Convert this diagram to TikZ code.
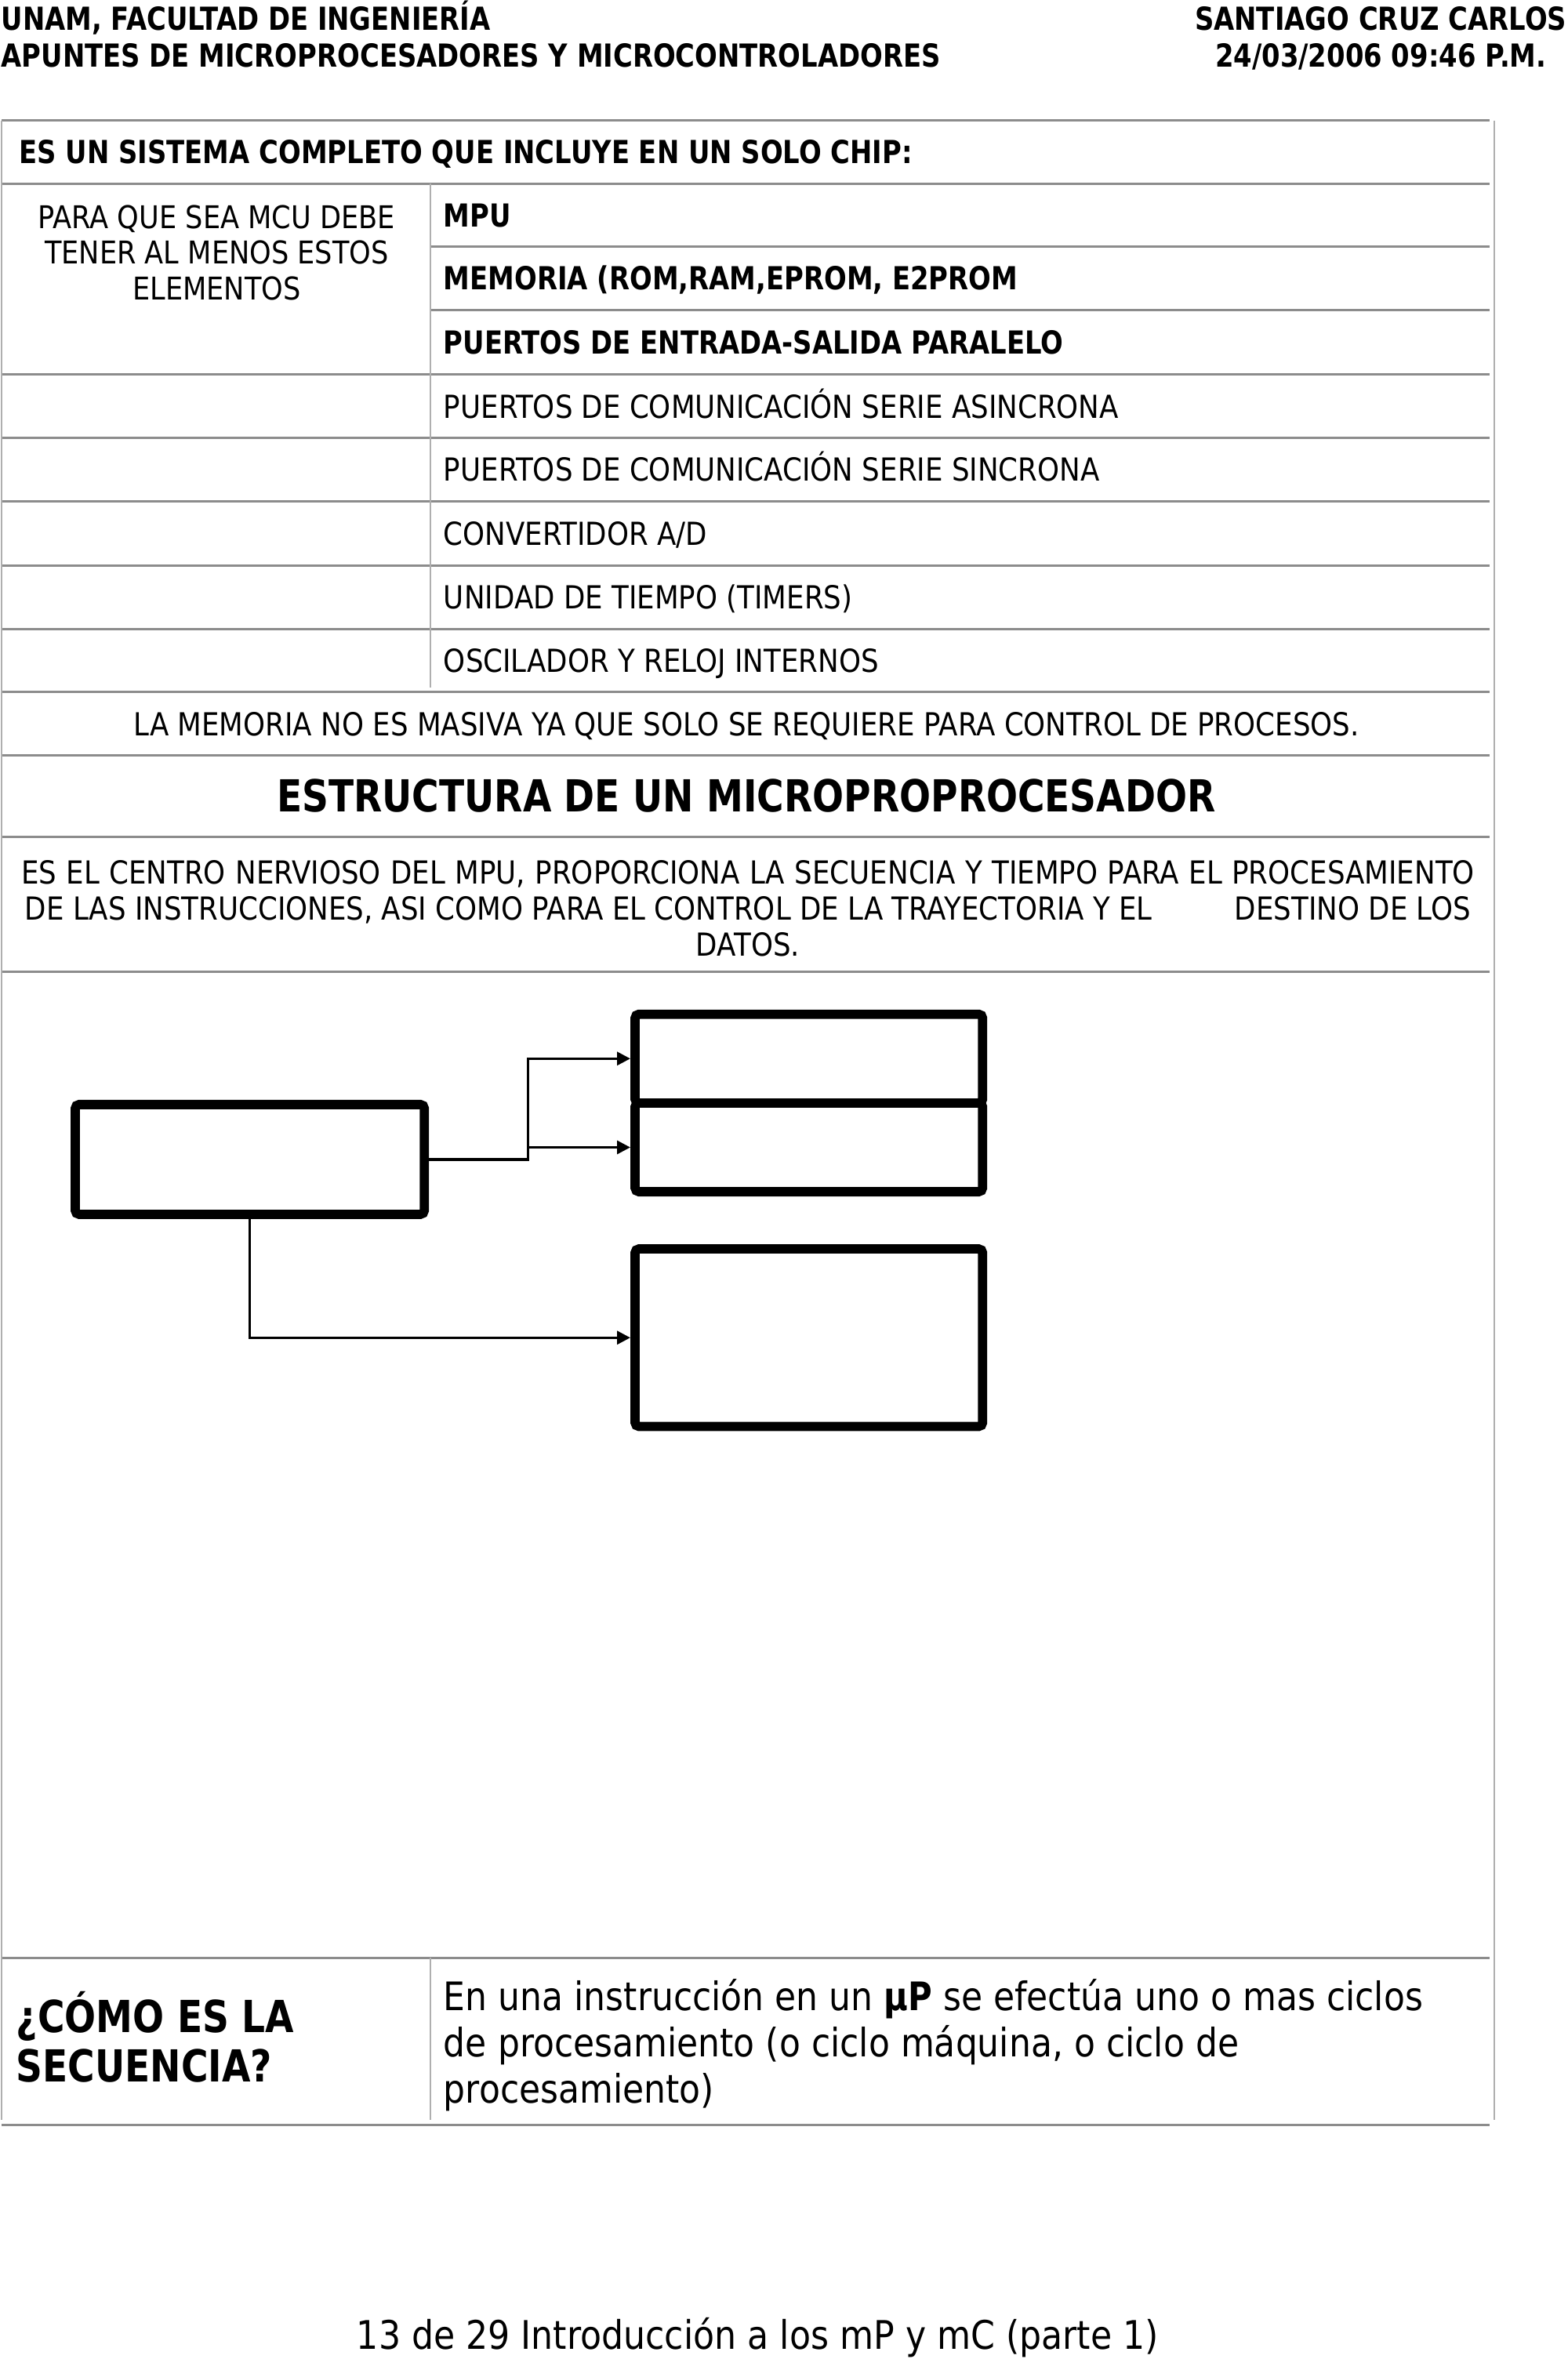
\documentclass[tikz,border=0pt]{standalone}
\usepackage{fontspec}
\setmainfont{DejaVu Sans}[FakeStretch=0.88,BoldFeatures={FakeStretch=0.836}]
\usetikzlibrary{arrows.meta,positioning}
\definecolor{rulegray}{RGB}{140,140,140}
\newcommand{\hdrfont}{\fontsize{12}{14}\selectfont\bfseries}
\newcommand{\cellfont}{\fontsize{12}{13.6}\selectfont}
\newcommand{\bigfont}{\fontsize{16.7}{18.7}\selectfont\bfseries}

\begin{document}
\begin{tikzpicture}[x=0.02cm,y=-0.02cm,>={Triangle[length=5pt,width=5pt]},
                    line width=1pt,shorten >=1.8pt]
  \tikzstyle{txt}=[inner sep=0pt,font=\cellfont]
  \tikzstyle{cell}=[txt,anchor=base west,yshift=-4.4pt]
  \tikzstyle{cellb}=[cell,font=\cellfont\bfseries]
  \tikzstyle{hdr}=[inner sep=0pt,font=\hdrfont,yshift=-4.4pt]
  \tikzstyle{rule}=[draw=rulegray,line width=0.9pt]
  \tikzstyle{vrule}=[draw=rulegray!70,line width=0.5pt]
  \tikzstyle{blk}=[draw,line width=3.5pt,rounded corners=1.5pt,outer sep=0pt,
                   minimum width=4.62cm]

  \useasboundingbox (0,0) rectangle (1042,1567.7);

  % page header
  \node[hdr,anchor=base west] (uni) at (0,12.5)  {UNAM, FACULTAD DE INGENIERÍA};
  \node[hdr,anchor=base west] (apu) at (0,37)    {APUNTES DE MICROPROCESADORES Y MICROCONTROLADORES};
  \node[hdr,anchor=base east] (aut) at (1042,12.5) {SANTIAGO CRUZ CARLOS};
  \node[hdr,anchor=base]      (fec) at (aut.base |- 0,37) {24/03/2006 09:46 P.M.};

  % table rules
  \foreach \y in {80,122,249,291,333,376,418,460,502,556,646,1301,1412}
    \draw[rule] (1,\y) -- (993,\y);
  \foreach \y in {164,206}
    \draw[rule] (286,\y) -- (993,\y);
  \draw[vrule] (1,80) -- (1,1412);
  \draw[vrule] (993,80) -- (993,1412);
  \draw[vrule] (286,122) -- (286,460);
  \draw[vrule] (286,1301) -- (286,1412);

  % table text
  \node[cellb] (chip) at (12,101) {ES UN SISTEMA COMPLETO QUE INCLUYE EN UN SOLO CHIP:};
  \node[txt,anchor=north,align=center,font=\fontsize{11.85}{13.6}\selectfont] (mcu) at (144,135.3)
       {PARA QUE SEA MCU DEBE\\TENER AL MENOS ESTOS\\ELEMENTOS};
  \node[cellb] (mpu) at (294,143)   {MPU};
  \node[cellb] (mem) at (294,185)   {MEMORIA (ROM,RAM,EPROM, E2PROM};
  \node[cellb] (par) at (294,227.5) {PUERTOS DE ENTRADA-SALIDA PARALELO};
  \node[cell]  (asi) at (294,270)   {PUERTOS DE COMUNICACIÓN SERIE ASINCRONA};
  \node[cell]  (sin) at (294,312)   {PUERTOS DE COMUNICACIÓN SERIE SINCRONA};
  \node[cell]  (adc) at (294,354.5) {CONVERTIDOR A/D};
  \node[cell]  (tmr) at (294,397)   {UNIDAD DE TIEMPO (TIMERS)};
  \node[cell]  (osc) at (294,439)   {OSCILADOR Y RELOJ INTERNOS};
  \node[cell,anchor=base] (mas) at (496,481)
       {LA MEMORIA NO ES MASIVA YA QUE SOLO SE REQUIERE PARA CONTROL DE PROCESOS.};
  \node[txt,anchor=base,font=\fontsize{16.7}{20}\selectfont\bfseries,yshift=-6.1pt] (tit) at (496,529)
       {ESTRUCTURA DE UN MICROPROPROCESADOR};
  \node[txt,anchor=north,align=center] (cen) at (497,570.8)
       {\makebox[19.32cm][s]{ES EL CENTRO NERVIOSO DEL MPU, PROPORCIONA LA SECUENCIA Y TIEMPO PARA EL PROCESAMIENTO}\\
        \makebox[19.22cm][s]{DE LAS INSTRUCCIONES, ASI COMO PARA EL CONTROL DE LA TRAYECTORIA Y EL\hfill DESTINO DE LOS}\\
        DATOS.};

  % block diagram
  \node[blk,minimum width=4.64cm,minimum height=1.46cm] (A) at (166,770.5) {};
  \node[blk,minimum height=1.18cm] (B1) at (537.5,703.5) {};
  \node[blk,minimum height=1.18cm] (B2) [below=0pt of B1] {};
  \node[blk,minimum height=2.36cm] (C)  [below=0.76cm of B2] {};
  \coordinate (sp) at (351,0);

  \draw[->] (A.east) -| (sp |- B1.west) -- (B1.west);
  \draw[->] (sp |- B2.west) -- (B2.west);
  \draw[->] (A.south) |- (C.west);

  % last row
  \node[txt,anchor=north west,align=left,font=\bigfont] (sec) at (10,1322.6)
       {¿CÓMO ES LA\\SECUENCIA?};
  \node[txt,anchor=north west,align=left,font=\fontsize{14.85}{17.4}\selectfont] (ins) at (294,1314.6)
       {En una instrucción en un \textbf{µP} se efectúa uno o mas ciclos\\
        de procesamiento (o ciclo máquina, o ciclo de\\
        procesamiento)};

  % page footer
  \node[txt,anchor=base,font=\fontsize{14.9}{18}\selectfont] (pie) at (503.5,1561)
       {13 de 29 Introducción a los mP y mC (parte 1)};
\end{tikzpicture}
\end{document}
